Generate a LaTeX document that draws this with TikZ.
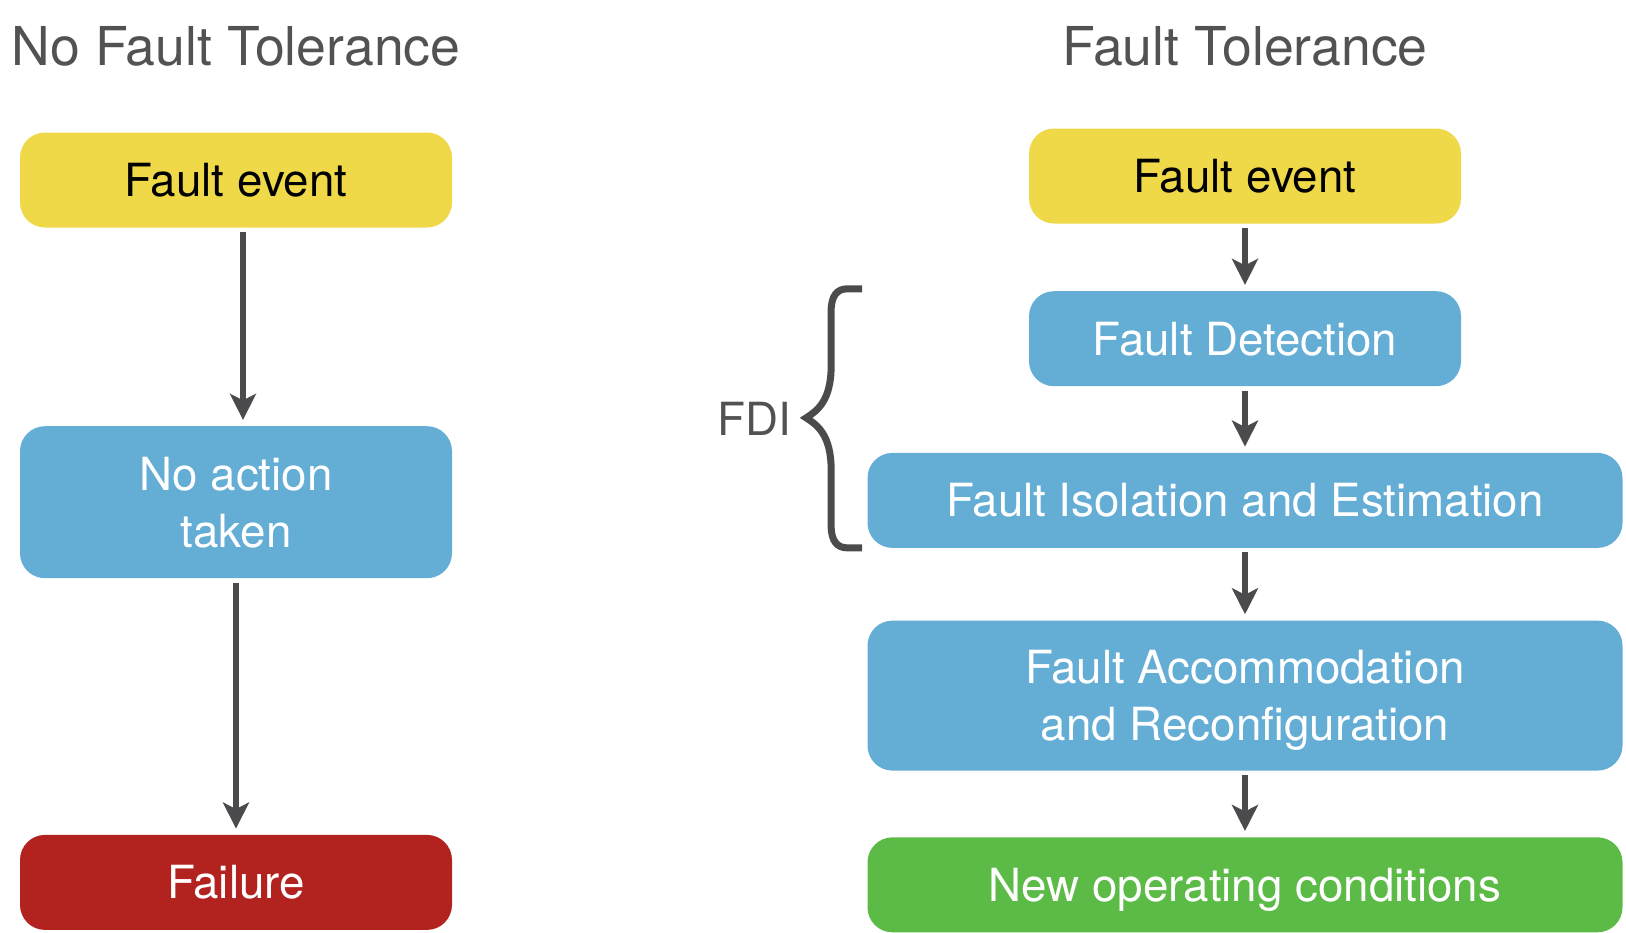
\documentclass[tikz,border=0pt]{standalone}
\usepackage{fontspec}
\setmainfont{TeX Gyre Heros}
\usepackage{tikz}
\usetikzlibrary{arrows.meta,positioning,calc}

\definecolor{fyellow}{HTML}{EFD948}
\definecolor{fblue}{HTML}{64ADD4}
\definecolor{fred}{HTML}{B2231F}
\definecolor{fgreen}{HTML}{5CBB47}
\definecolor{fgray}{HTML}{4B4B4D}
\definecolor{ftitle}{HTML}{525252}

\begin{document}
\begin{tikzpicture}[
    font=\fontsize{26pt}{32.4pt}\selectfont,
    node distance=1.34cm,
    box/.style={
        rounded corners=0.5cm,
        minimum width=8.64cm,
        minimum height=1.9cm,
        align=center,
        inner sep=0pt,
        text height=18.7pt,
        text depth=0pt,
        text=white
    },
    wide/.style={
        box,
        minimum width=15.1cm
    },
    twoline/.style={
        text height=51.1pt
    },
    title/.style={
        font=\fontsize{30.5pt}{36pt}\selectfont,
        text=ftitle,
        inner sep=0pt,
        anchor=base
    },
    arr/.style={-{Stealth[length=0.52cm, width=0.52cm, inset=0.13cm]},
        line width=0.12cm, draw=fgray,
        shorten <=0.08cm, shorten >=0.12cm}
]
    \useasboundingbox (0,0) rectangle (32.52,-18.64);

    %% Titles
    \node[title] (ltitle) at (4.72,-1.3) {No Fault Tolerance};
    \node[title] (rtitle) at (24.9,-1.3) {Fault Tolerance};

    %% No fault tolerance
    \node[box, fill=fyellow, text=black] (lfault) at (4.72,-3.6) {Fault event};
    \node[box, twoline, fill=fblue, minimum height=3.04cm, below=3.96cm of lfault] (lnone) {No action\\taken};
    \node[box, fill=fred, below=5.12cm of lnone] (lfail) {Failure};

    %% Fault tolerance
    \node[box, fill=fyellow, text=black] (rfault) at (24.9,-3.52) {Fault event};
    \node[box, fill=fblue, below=of rfault] (rdet) {Fault Detection};
    \node[wide, fill=fblue, below=1.32cm of rdet] (riso) {Fault Isolation and Estimation};
    \node[wide, twoline, fill=fblue, minimum height=3.0cm, below=1.44cm of riso] (racc) {Fault Accommodation\\and Reconfiguration};
    \node[wide, fill=fgreen, below=1.32cm of racc] (rnew) {New operating conditions};

    %% FDI brace
    \node[text=ftitle, inner sep=0pt, text height=18.7pt, text depth=0pt] (fdi) at (15.08,-8.38) {FDI};
    \coordinate (brtop) at ($(riso.west |- rdet.north)+(-0.1cm,0.04cm)$);
    \draw[fgray, line width=0.14cm, shift={(brtop)}]
        (0,0) -- (-0.30,0) .. controls (-0.50,0) and (-0.62,-0.14) .. (-0.62,-0.44)
        -- (-0.62,-1.54) .. controls (-0.62,-2.24) and (-0.90,-2.44) .. (-1.12,-2.58)
        .. controls (-0.90,-2.72) and (-0.62,-2.92) .. (-0.62,-3.62)
        -- (-0.62,-4.74) .. controls (-0.62,-5.04) and (-0.50,-5.18) .. (-0.30,-5.18)
        -- (0,-5.18);

    %% Arrows
    \draw[arr] ([xshift=0.14cm]lfault.south) -- ([xshift=0.14cm]lnone.north);
    \draw[arr] (lnone) -- (lfail);
    \draw[arr] (rfault) -- (rdet);
    \draw[arr] (rdet) -- (riso);
    \draw[arr] (riso) -- (racc);
    \draw[arr] (racc) -- (rnew);
\end{tikzpicture}
\end{document}
